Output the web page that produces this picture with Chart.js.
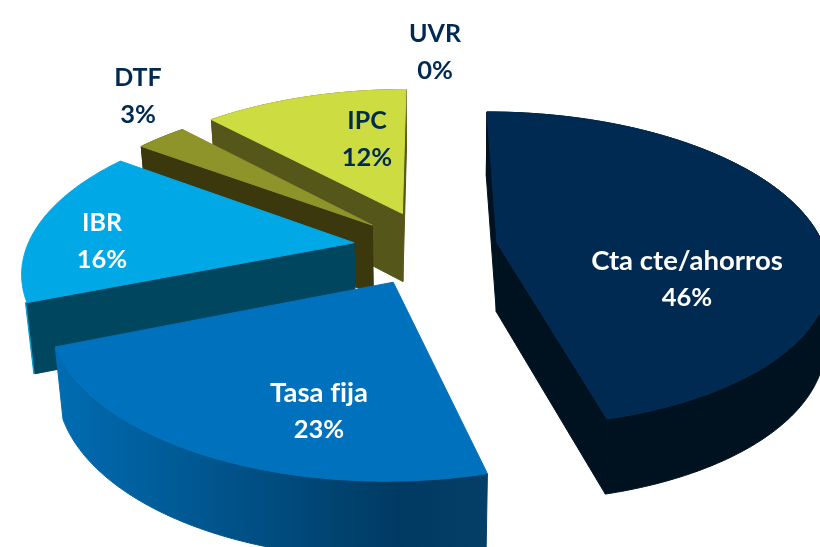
<!DOCTYPE html>
<html>
<head>
<meta charset="utf-8">
<style>html,body{margin:0;padding:0;background:#fff}#w{width:820px;height:547px;position:relative;overflow:hidden}</style>
<script src="https://cdn.jsdelivr.net/npm/chart.js@4"></script>
</head>
<body>
<div id="w"><canvas id="c" width="820" height="547"></canvas></div>
<script>
const categories = ['Cta cte/ahorros', 'Tasa fija', 'IBR', 'DTF', 'IPC', 'UVR'];
const shares = [46, 23, 16, 3, 12, 0];

const topColors = ['#012a52', '#0071bc', '#00a9e6', '#8e932a', '#cddc40', '#9bbb59'];
const wallColors = ['#00121f', '#00528f', '#00465f', '#3c380e', '#55561a', '#55561a'];
const labelColors = ['#ffffff', '#ffffff', '#ffffff', '#012a52', '#012a52', '#012a52'];
const labelX = [687, 319, 102, 138, 367, 435];
const labelY = [261, 393, 223, 78, 121, 34];
const labelSize = [27.5, 27.5, 25, 25, 25, 25];
const nudgeX = [1, 2, 0, 0, 3, 0];
const nudgeY = [0, 4, 0, 0, -3, 0];
const converge = [0.99, 0.979, 0.979, 0.979, 0.979, 0.979];
const drawOrder = [5, 4, 3, 2, 0, 1];

const RADIUS = 400, EXPLODE = 88, SX = 327, SY = 154, PERSP = 0.167;

const extruded = {
  id: 'extruded',
  beforeDatasetsDraw(chart) {
    const ctx = chart.ctx, arcs = chart.getDatasetMeta(0).data;
    drawOrder.forEach(i => {
      const a = arcs[i];
      if (a.endAngle - a.startAngle < 1e-4) return;
      const mid = (a.startAngle + a.endAngle) / 2;
      const R = a.outerRadius, off = a.options.offset;
      const ox = Math.cos(mid) * off / R, oy = Math.sin(mid) * off / R;
      const cx = a.x, cy = a.y;
      const proj = (ang, rr) => {
        const X = ox + Math.cos(ang) * rr, Y = oy + Math.sin(ang) * rr;
        const w = 1 - PERSP * Y;
        return [cx + SX * X / w + nudgeX[i], cy + SY * Y / w + nudgeY[i]];
      };
      const low = p => [cx + (p[0] - cx) * converge[i], p[1] + 69 + (p[1] - 243) * 0.035];
      const poly = (pts, fill) => {
        ctx.beginPath();
        pts.forEach((p, k) => k ? ctx.lineTo(p[0], p[1]) : ctx.moveTo(p[0], p[1]));
        ctx.closePath();
        ctx.fillStyle = fill;
        ctx.fill();
        ctx.strokeStyle = fill;
        ctx.lineWidth = 1;
        ctx.stroke();
      };
      const n = Math.max(8, Math.round((a.endAngle - a.startAngle) * 90));
      const rim = [];
      for (let k = 0; k <= n; k++) rim.push(proj(a.startAngle + (a.endAngle - a.startAngle) * k / n, 1));
      const apex = proj(0, 0);
      const minX = Math.min(...rim.map(p => p[0])), maxX = Math.max(...rim.map(p => p[0]));

      // outer wall, shaded across its width (IBR only shows a hairline of it)
      if (i === 2) {
        const e = rim[0], b = low(e);
        poly([[e[0] - 1.5, e[1]], e, b, [b[0] - 1.5, b[1]]], '#0098cf');
      } else {
        let outer = wallColors[i];
        if (i === 1) {
          const g = ctx.createLinearGradient(minX, 0, maxX, 0);
          g.addColorStop(0, '#006cb2'); g.addColorStop(0.35, '#00568f');
          g.addColorStop(0.8, '#003a62'); g.addColorStop(1, '#043f68');
          outer = g;
        }
        poly(rim.concat(rim.map(low).reverse()), outer);
      }

      // radial walls that face the viewer
      const inner = proj(mid, 0.6);
      [rim[0], rim[n]].forEach(edge => {
        const ex = edge[0] - apex[0], ey = edge[1] - apex[1];
        const side = ex * (inner[1] - apex[1]) - ey * (inner[0] - apex[0]);
        if (ex * side < 0) poly([apex, edge, low(edge), low(apex)], wallColors[i]);
      });

      // top face
      poly([apex].concat(rim), topColors[i]);
    });

    ctx.textAlign = 'center';
    ctx.textBaseline = 'middle';
    ctx.letterSpacing = '0.01px';
    categories.forEach((name, i) => {
      ctx.fillStyle = labelColors[i];
      ctx.font = 'bold ' + labelSize[i] + 'px Lato, "Open Sans", sans-serif';
      ctx.fillText(name, labelX[i], labelY[i]);
      ctx.font = 'bold 25.5px Lato, "Open Sans", sans-serif';
      ctx.fillText(shares[i] + '%', labelX[i], labelY[i] + 36.5);
    });
    return false;
  }
};

new Chart(document.getElementById('c'), {
  type: 'pie',
  data: {
    labels: categories,
    datasets: [{ data: shares, backgroundColor: topColors, offset: EXPLODE, borderWidth: 0 }]
  },
  options: {
    responsive: false,
    animation: false,
    radius: RADIUS,
    layout: { padding: { left: 30, right: 0, top: 0, bottom: 53 } },
    plugins: { legend: { display: false }, tooltip: { enabled: false } }
  },
  plugins: [extruded]
});
</script>
</body>
</html>
